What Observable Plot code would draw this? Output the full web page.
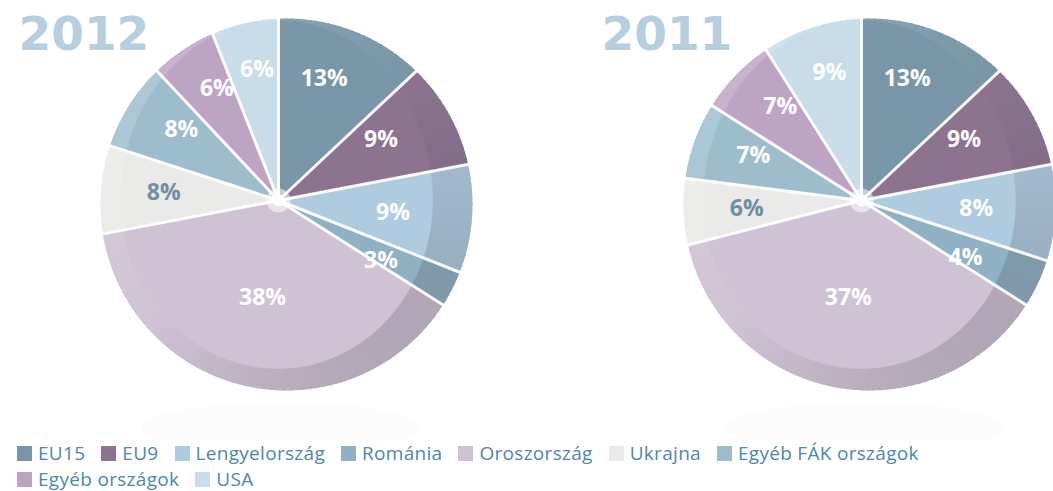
<!DOCTYPE html>
<html><head><meta charset="utf-8">
<script src="https://cdn.jsdelivr.net/npm/d3@7"></script>
<script src="https://cdn.jsdelivr.net/npm/@observablehq/plot@0.6"></script>
<style>
body{margin:0;background:#fff;}
#chart{width:1053px;}
.lg-swatches-wrap{padding-left:17px;min-height:0 !important;max-width:960px;margin:0 !important;}
.lg-swatch{margin-right:16px !important;height:26px;letter-spacing:0.3px;}
.lg-swatch > svg{margin-right:6px !important;}
</style></head><body><div id="chart"></div>
<script>
const categories = ["EU15","EU9","Lengyelország","Románia","Oroszország","Ukrajna","Egyéb FÁK országok","Egyéb országok","USA"];
const years = ["2012","2011"];
const shares2012 = [13,9,9,3,38,8,8,6,6];
const shares2011 = [13,9,8,4,37,6,7,7,9];
const colors = ["#7896a7","#8c7490","#aecbdf","#8fb1c3","#cfc2d4","#eaeae8","#9dbdcd","#bea4c4","#c8dde9"];

const W = 1053, H = 440;
const pies = [
  {year: years[0], shares: shares2012, dx: 0},
  {year: years[1], shares: shares2011, dx: 583}
];
const A0 = [278, 200], O0 = [286, 204], R = 186;
const FR = {right: 154, left: 158, top: 180, bottom: 168};
const deg = Math.PI / 180;

function faceR(t) {
  const s = Math.sin(t), c = Math.cos(t);
  const rx = s > 0 ? FR.right : FR.left;
  const ry = c > 0 ? FR.top : FR.bottom;
  return 1 / Math.sqrt((s / rx) ** 2 + (c / ry) ** 2);
}
function outerR(t, A, O) {
  const ux = Math.sin(t), uy = -Math.cos(t);
  const dx = A[0] - O[0], dy = A[1] - O[1];
  const b = ux * dx + uy * dy;
  const c = dx * dx + dy * dy - R * R;
  return -b + Math.sqrt(b * b - c);
}
const pt = (A, r, t) => [A[0] + r * Math.sin(t), A[1] - r * Math.cos(t)];

const rim = [], face = [], seps = [], labels = [], centers = [], titles = [], refl = [];
let pid = 0;
pies.forEach((p, k) => {
  const A = [A0[0] + p.dx, A0[1]], O = [O0[0] + p.dx, O0[1]];
  const total = d3.sum(p.shares);
  let cum = 0;
  titles.push({x: 18 + p.dx, y: 34, text: p.year});
  centers.push({x: A[0], y: A[1]});
  const rid = "r" + k;
  for (let t = 0; t <= 360; t += 6) {
    refl.push({id: rid, x: O[0] - 5 + 140 * Math.sin(t * deg), y: 428 + 26 * Math.cos(t * deg)});
  }
  p.shares.forEach((v, i) => {
    const t0 = cum / total * 2 * Math.PI;
    cum += v;
    const t1 = cum / total * 2 * Math.PI;
    const c = colors[i];
    const n = Math.max(1, Math.ceil((t1 - t0) / (2 * deg)));
    for (let j = 0; j < n; j++) {
      const ta = t0 + (t1 - t0) * j / n;
      const tb = t0 + (t1 - t0) * (j + 1) / n + (j < n - 1 ? 0.6 * deg : 0);
      const tm = (ta + tb) / 2;
      const kk = Math.cos(tm - 315 * deg);
      const col = kk > 0 ? d3.interpolateRgb(c, "#ffffff")(0.16 * kk) : d3.interpolateRgb(c, "#3a3442")(0.2 * -kk);
      const id = "s" + (pid++);
      rim.push({id, col, x: A[0], y: A[1]});
      [ta, tm, tb].forEach(t => {
        const q = pt(A, outerR(t, A, O), t);
        rim.push({id, col, x: q[0], y: q[1]});
      });
    }
    const fid = "f" + k + "_" + i;
    face.push({id: fid, col: c, x: A[0], y: A[1]});
    const m = Math.max(2, Math.ceil((t1 - t0) / deg));
    for (let j = 0; j <= m; j++) {
      const t = t0 + (t1 - t0) * j / m;
      const q = pt(A, faceR(t), t);
      face.push({id: fid, col: c, x: q[0], y: q[1]});
    }
    const sid = "b" + k + "_" + i;
    const qo = pt(A, outerR(t0, A, O) + 2, t0);
    seps.push({id: sid, x: A[0], y: A[1]});
    seps.push({id: sid, x: qo[0], y: qo[1]});
    const tm = (t0 + t1) / 2;
    const sc = v > 25 ? 0.74 : 1;
    labels.push({
      x: A[0] + 115 * sc * Math.sin(tm),
      y: A[1] - 133 * sc * Math.cos(tm),
      text: Math.round(v / total * 100) + "%",
      col: categories[i] === "Ukrajna" ? "#6f8ea2" : "#ffffff"
    });
  });
});

const chart = Plot.plot({
  width: W, height: H, margin: 0,
  x: {domain: [0, W], range: [0, W], axis: null},
  y: {domain: [0, H], range: [0, H], axis: null},
  color: {type: "identity"},
  style: {background: "#fff", overflow: "hidden"},
  marks: [
    Plot.line(refl, {x: "x", y: "y", z: "id", fill: "#7a7f88", fillOpacity: 0.025, stroke: null}),
    Plot.line(rim, {x: "x", y: "y", z: "id", fill: "col", stroke: null}),
    Plot.line(face, {x: "x", y: "y", z: "id", fill: "col", stroke: "col", strokeWidth: 0.5}),
    Plot.line(seps, {x: "x", y: "y", z: "id", stroke: "#ffffff", strokeWidth: 3, strokeOpacity: 0.95}),
    Plot.dot(centers, {x: "x", y: "y", r: 12, fill: "#ffffff", fillOpacity: 0.55}),
    Plot.dot(centers, {x: "x", y: "y", r: 6, fill: "#ffffff"}),
    Plot.text(labels, {x: "x", y: "y", text: "text", fill: "col", fontSize: 23, fontWeight: "bold", fontFamily: "Open Sans"}),
    Plot.text(titles, {x: "x", y: "y", text: "text", fill: "#b6cedd", fontSize: 47, fontWeight: "bold", fontFamily: "DejaVu Sans", textAnchor: "start", letterSpacing: -1})
  ]
});
document.getElementById("chart").append(chart);

const legend = Plot.legend({
  color: {type: "ordinal", domain: categories, range: colors},
  swatchSize: 15,
  className: "lg",
  style: {fontFamily: "Open Sans", fontSize: "19px", color: "#4d87ac"}
});
document.getElementById("chart").append(legend);
</script></body></html>
